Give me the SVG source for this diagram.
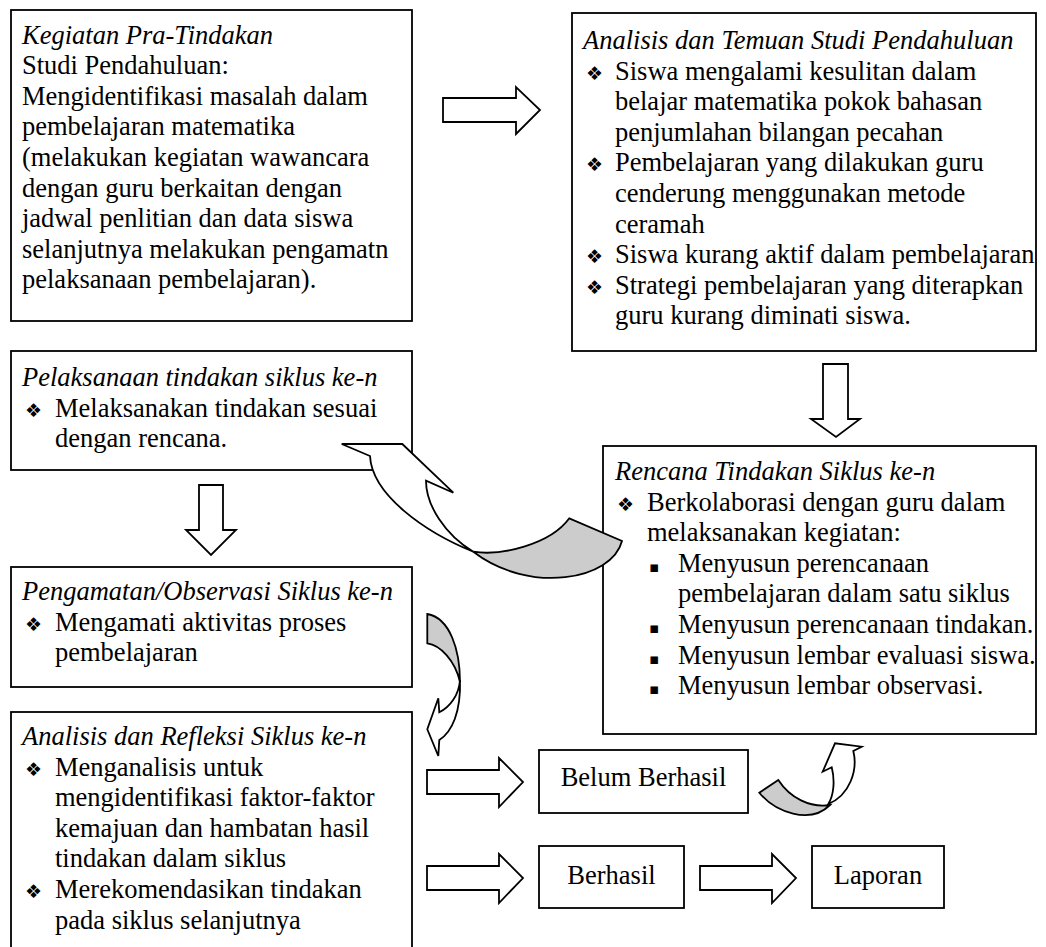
<svg xmlns="http://www.w3.org/2000/svg" width="1046" height="947" viewBox="0 0 1046 947">
<style>
.t{font-size:26.5px;fill:#000}
.i{font-style:italic}
.b{font-family:"DejaVu Sans",sans-serif;font-size:19px;fill:#000}
.s{font-family:"DejaVu Sans",sans-serif;font-size:15px;fill:#000}
.box{fill:#fff;stroke:#000;stroke-width:1.8}
.arr{fill:#fff;stroke:#000;stroke-width:1.8;stroke-linejoin:miter}
.gr{fill:#cccccc;stroke:#000;stroke-width:1.8;stroke-linejoin:miter}
.c{text-anchor:middle}
</style>
<rect width="1046" height="947" fill="#fff"/>
<g font-family="Liberation Serif, Tinos, Times New Roman, serif">
<g id="node-pra">
<rect class="box" x="11" y="10" width="401" height="311"/>
<text class="t i" x="22" y="43.5">Kegiatan Pra-Tindakan</text>
<text class="t" x="22" y="74.1">Studi Pendahuluan:</text>
<text class="t" x="22" y="104.7">Mengidentifikasi masalah dalam</text>
<text class="t" x="22" y="135.3">pembelajaran matematika</text>
<text class="t" x="22" y="165.9">(melakukan kegiatan wawancara</text>
<text class="t" x="22" y="196.5">dengan guru berkaitan dengan</text>
<text class="t" x="22" y="227.1">jadwal penlitian dan data siswa</text>
<text class="t" x="22" y="257.7">selanjutnya melakukan pengamatn</text>
<text class="t" x="22" y="288.3">pelaksanaan pembelajaran).</text>
</g>
<g id="node-temuan">
<rect class="box" x="572" y="13" width="464" height="338"/>
<text class="t i" x="583" y="49">Analisis dan Temuan Studi Pendahuluan</text>
<text class="b" x="586" y="79.6">❖</text><text class="t" x="615" y="79.6">Siswa mengalami kesulitan dalam</text>
<text class="t" x="615" y="110.2">belajar matematika pokok bahasan</text>
<text class="t" x="615" y="140.8">penjumlahan bilangan pecahan</text>
<text class="b" x="586" y="171.4">❖</text><text class="t" x="615" y="171.4">Pembelajaran yang dilakukan guru</text>
<text class="t" x="615" y="202">cenderung menggunakan metode</text>
<text class="t" x="615" y="232.6">ceramah</text>
<text class="b" x="586" y="263.2">❖</text><text class="t" x="615" y="263.2">Siswa kurang aktif dalam pembelajaran</text>
<text class="b" x="586" y="293.8">❖</text><text class="t" x="615" y="293.8">Strategi pembelajaran yang diterapkan</text>
<text class="t" x="615" y="324.4">guru kurang diminati siswa.</text>
</g>
<g id="node-pelaksanaan">
<rect class="box" x="11" y="351" width="401" height="119"/>
<text class="t i" x="22" y="386">Pelaksanaan tindakan siklus ke-n</text>
<text class="b" x="25" y="416.6">❖</text><text class="t" x="55" y="416.6">Melaksanakan tindakan sesuai</text>
<text class="t" x="55" y="447.2">dengan rencana.</text>
</g>
<g id="node-rencana">
<rect class="box" x="603" y="446" width="433" height="288"/>
<text class="t i" x="615" y="480">Rencana Tindakan Siklus ke-n</text>
<text class="b" x="617" y="510.6">❖</text><text class="t" x="647" y="510.6">Berkolaborasi dengan guru dalam</text>
<text class="t" x="647" y="541.2">melaksanakan kegiatan:</text>
<text class="s" x="649" y="571.8">▪</text><text class="t" x="678" y="571.8">Menyusun perencanaan</text>
<text class="t" x="678" y="602.4">pembelajaran dalam satu siklus</text>
<text class="s" x="649" y="633">▪</text><text class="t" x="678" y="633">Menyusun perencanaan tindakan.</text>
<text class="s" x="649" y="663.6">▪</text><text class="t" x="678" y="663.6">Menyusun lembar evaluasi siswa.</text>
<text class="s" x="649" y="694.2">▪</text><text class="t" x="678" y="694.2">Menyusun lembar observasi.</text>
</g>
<g id="node-pengamatan">
<rect class="box" x="11" y="567" width="401" height="120"/>
<text class="t i" x="22" y="600">Pengamatan/Observasi Siklus ke-n</text>
<text class="b" x="25" y="630.6">❖</text><text class="t" x="55" y="630.6">Mengamati aktivitas proses</text>
<text class="t" x="55" y="661.2">pembelajaran</text>
</g>
<g id="node-refleksi">
<rect class="box" x="11" y="712" width="401" height="250"/>
<text class="t i" x="22" y="745">Analisis dan Refleksi Siklus ke-n</text>
<text class="b" x="25" y="775.6">❖</text><text class="t" x="55" y="775.6">Menganalisis untuk</text>
<text class="t" x="55" y="806.2">mengidentifikasi faktor-faktor</text>
<text class="t" x="55" y="836.8">kemajuan dan hambatan hasil</text>
<text class="t" x="55" y="867.4">tindakan dalam siklus</text>
<text class="b" x="25" y="898">❖</text><text class="t" x="55" y="898">Merekomendasikan tindakan</text>
<text class="t" x="55" y="928.6">pada siklus selanjutnya</text>
</g>
<g id="node-belum">
<rect class="box" x="539" y="750" width="209" height="63"/>
<text class="t c" x="643.5" y="786">Belum Berhasil</text>
</g>
<g id="node-berhasil">
<rect class="box" x="539" y="846" width="145" height="62"/>
<text class="t c" x="611.5" y="884">Berhasil</text>
</g>
<g id="node-laporan">
<rect class="box" x="812" y="846" width="132" height="62"/>
<text class="t c" x="878" y="884">Laporan</text>
</g>
</g>
<g id="connectors">
<path class="arr" d="M443,98 H516 V87 L540,110 L516,134 V122 H443 Z"/>
<path class="arr" d="M823,364 H848 V419 H860 L836,437 L811,419 H823 Z"/>
<path class="arr" d="M199,485 H223 V530 H236 L211,555 L186,530 H199 Z"/>
<path class="arr" d="M427,770 H499 V758 L523,782 L499,807 V794 H427 Z"/>
<path class="arr" d="M427,866 H499 V854 L523,878 L499,903 V890 H427 Z"/>
<path class="arr" d="M700,866 H772 V854 L796,878 L772,903 V890 H700 Z"/>
<path class="arr" d="M341.7,444 L402.3,444 L453.3,492.7 L426,480.7 C426,505 445,535 473.3,551.7 C425,532 372,495 370,456 Z"/>
<path class="gr" d="M473.3,551.7 C500,556 550,545 569.3,518.3 L622,541 C612,580 530,595 473.3,551.7 Z"/>
<path class="gr" d="M427.3,614 L427.3,643.3 C440,645 455,660 460,682 C460,650 450,618 427.3,614 Z"/>
<path class="arr" d="M439.3,712.3 L438.3,698.3 L427.3,729.3 L438.3,756 L439.3,740 C452,732 461,712 460,680 C459,695 450,707 439.3,712.3 Z"/>
<path class="gr" d="M778.3,780 L759.3,792.7 C775,812 810,825 830,805 C810,808 790,798 778.3,780 Z"/>
<path class="arr" d="M831.7,767.3 L822.7,771.7 L835,743.3 L861.7,746.7 L853.3,751 C858,770 850,795 828.3,804 C834,795 835,780 831.7,767.3 Z"/>
</g>
</svg>
